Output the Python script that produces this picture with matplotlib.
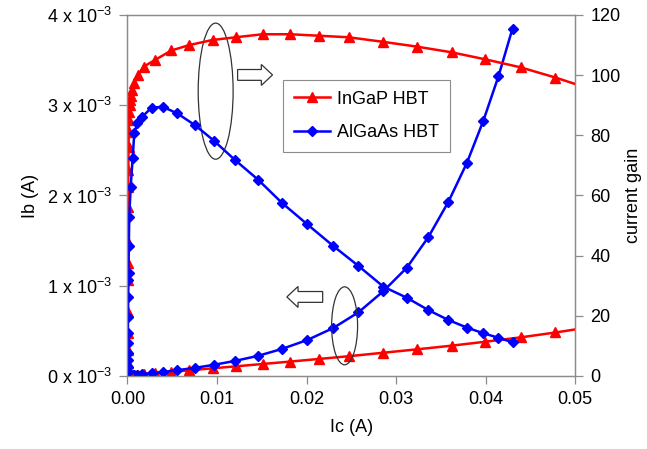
import numpy as np
import matplotlib
matplotlib.use("Agg")
import matplotlib.pyplot as plt
from matplotlib.patches import Ellipse, FancyArrow

plt.rcParams['font.family'] = ['Liberation Sans', 'DejaVu Sans']
plt.rcParams['mathtext.fontset'] = 'custom'
plt.rcParams['mathtext.rm'] = 'Liberation Sans'
plt.rcParams['mathtext.it'] = 'Liberation Sans'

# InGaP HBT: Ic (A), current gain, Ib (A)
ingap_ic = [0.000005, 0.00001, 0.00002, 0.00003, 0.00004, 0.00005, 0.00006, 0.00007,
            0.00008, 0.00009, 0.0001, 0.00012, 0.00015, 0.00018, 0.0002, 0.00025,
            0.0003, 0.00038, 0.0005, 0.00075, 0.0012, 0.0018, 0.0031, 0.0049,
            0.0069, 0.0095, 0.0121, 0.0151, 0.0182, 0.0214, 0.0247, 0.0285,
            0.0323, 0.0362, 0.0399, 0.0439, 0.0478, 0.0515]
ingap_gain = [2.0, 4.2, 8.6, 14.2, 21.4, 31.9, 37.5, 44.6,
              56.3, 62.9, 68.5, 76.2, 81.2, 85.1, 87.9, 90.1,
              91.8, 93.1, 95.1, 97.5, 100.1, 102.8, 105.1, 108.2,
              110.0, 111.7, 112.6, 113.6, 113.6, 113.1, 112.6, 111.1,
              109.5, 107.6, 105.3, 102.6, 99.2, 95.6]
ingap_ib = [0.0000025, 0.0000024, 0.0000023, 0.0000021, 0.0000019, 0.0000016, 0.0000016, 0.0000016,
            0.0000014, 0.0000014, 0.0000015, 0.0000016, 0.0000018, 0.0000021, 0.0000023, 0.0000028,
            0.0000033, 0.0000041, 0.0000053, 0.0000077, 0.000012, 0.0000175, 0.000030, 0.000045,
            0.000063, 0.000085, 0.000107, 0.000133, 0.000160, 0.000189, 0.000219, 0.000257,
            0.000295, 0.000336, 0.000379, 0.000428, 0.000482, 0.000539]

# AlGaAs HBT: Ic (A), current gain, Ib (A)
algaas_ic = [0.000005, 0.00001, 0.00002, 0.00003, 0.00004, 0.00005, 0.00006, 0.00008,
             0.0001, 0.00012, 0.00015, 0.0002, 0.00036, 0.00058, 0.00076, 0.0011,
             0.00165, 0.0027, 0.00393, 0.00556, 0.00758, 0.00966, 0.01201, 0.01461,
             0.01723, 0.02009, 0.02299, 0.02579, 0.02858, 0.0312, 0.03361, 0.03584,
             0.0379, 0.03975, 0.04143, 0.043]
algaas_gain = [1.3, 3.1, 5.3, 7.6, 10.9, 14.2, 19.7, 26.4,
               31.9, 34.1, 43.2, 53.0, 62.9, 72.4, 80.7, 84.0,
               86.2, 89.2, 89.5, 87.3, 83.3, 78.2, 71.8, 65.2,
               57.6, 50.4, 43.2, 36.6, 29.7, 26.0, 21.9, 18.6,
               16.1, 14.2, 12.7, 11.2]
algaas_ib = [0.0000038, 0.0000032, 0.0000038, 0.0000039, 0.0000037, 0.0000035, 0.0000030, 0.0000030,
             0.0000031, 0.0000035, 0.0000035, 0.0000038, 0.0000057, 0.0000080, 0.0000094, 0.000013,
             0.000019, 0.000030, 0.000044, 0.000064, 0.000091, 0.000124, 0.000167, 0.000224,
             0.000299, 0.000399, 0.000532, 0.000705, 0.00094, 0.00120, 0.00154, 0.00193,
             0.00236, 0.00283, 0.00332, 0.00385]

ib_ticks = [0, 0.001, 0.002, 0.003, 0.004]
ib_labels = [r'%d x 10$^{-3}$' % i for i in range(5)]

red = '#ff0000'
blue = '#0000ff'
grey = '#8c8c8c'

fig = plt.figure(figsize=(6.47, 4.49), dpi=100)
ax = fig.add_axes([0.197, 0.1626, 0.692, 0.804])
ax2 = ax.twinx()

ax.plot(ingap_ic, ingap_ib, color=red, lw=1.8, marker='^', ms=7.5, zorder=3)
ax.plot(algaas_ic, algaas_ib, color=blue, lw=1.8, marker='D', ms=5.5, zorder=4)
ax2.plot(ingap_ic, ingap_gain, color=red, lw=1.8, marker='^', ms=7.5, label='InGaP HBT')
ax2.plot(algaas_ic, algaas_gain, color=blue, lw=1.8, marker='D', ms=5.5, label='AlGaAs HBT')

ax.set_xlim(0, 0.05)
ax.set_ylim(0, 0.004)
ax2.set_ylim(0, 120)
ax.set_xticks([0, 0.01, 0.02, 0.03, 0.04, 0.05])
ax.set_xticklabels(['0.00', '0.01', '0.02', '0.03', '0.04', '0.05'])
ax.set_yticks(ib_ticks)
ax.set_yticklabels(ib_labels)
ax2.set_yticks([0, 20, 40, 60, 80, 100, 120])

for a in (ax, ax2):
    for s in a.spines.values():
        s.set_color(grey)
        s.set_linewidth(0.9)
    a.tick_params(direction='out', length=6, width=0.9, color=grey, labelsize=13, pad=5)

ax.set_xlabel('Ic (A)', fontsize=13, labelpad=8)
ax.set_ylabel('Ib (A)', fontsize=13, labelpad=6)
ax2.set_ylabel('current gain', fontsize=13, labelpad=3)

leg = ax2.legend(loc='upper left', bbox_to_anchor=(0.3475, 0.82), borderaxespad=0,
                 fontsize=13, fancybox=False, framealpha=1, edgecolor=grey,
                 handlelength=2.0, borderpad=0.6, labelspacing=0.9, handletextpad=0.4)
leg.get_frame().set_linewidth(0.8)

# ellipses and hollow arrows pointing at the axes
ax2.add_patch(Ellipse((0.197, 0.789), 0.078, 0.377, transform=ax2.transAxes,
                      fill=False, edgecolor='#333333', lw=0.9))
ax2.add_patch(Ellipse((0.485, 0.139), 0.058, 0.216, transform=ax2.transAxes,
                      fill=False, edgecolor='#333333', lw=0.9))
ax2.add_patch(FancyArrow(0.246, 0.834, 0.078, 0, width=0.030, head_width=0.058,
                         head_length=0.025, length_includes_head=True,
                         transform=ax2.transAxes, facecolor='white',
                         edgecolor='#333333', lw=0.9))
ax2.add_patch(FancyArrow(0.436, 0.219, -0.080, 0, width=0.030, head_width=0.058,
                         head_length=0.025, length_includes_head=True,
                         transform=ax2.transAxes, facecolor='white',
                         edgecolor='#333333', lw=0.9))

fig.savefig('out.png', dpi=100)
